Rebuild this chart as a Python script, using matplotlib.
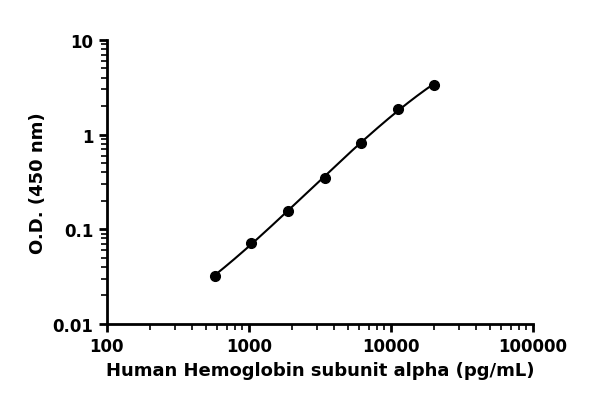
import numpy as np
import matplotlib
matplotlib.use("Agg")
import matplotlib.pyplot as plt
from matplotlib.ticker import FixedLocator, FixedFormatter, LogLocator, NullFormatter

conc = [575, 1030, 1880, 3430, 6150, 11200, 20000]
od = [0.032, 0.072, 0.156, 0.35, 0.82, 1.87, 3.35]
xticks = [100, 1000, 10000, 100000]
xlabels = ["100", "1000", "10000", "100000"]
yticks = [0.01, 0.1, 1, 10]
ylabels = ["0.01", "0.1", "1", "10"]

fig = plt.figure(figsize=(6, 4.14), dpi=100)
ax = fig.add_axes([0.178, 0.215, 0.71, 0.686])
lx, ly = np.log10(conc), np.log10(od)
c = np.polyfit(lx, ly, 3)
xx = np.linspace(lx[0], lx[-1], 200)
ax.plot(10**xx, 10**np.polyval(c, xx), color="black", lw=1.5)
ax.plot(conc, od, "o", color="black", ms=7)
ax.set_xscale("log"); ax.set_yscale("log")
ax.set_xlim(100, 100000); ax.set_ylim(0.01, 10)
ax.xaxis.set_major_locator(FixedLocator(xticks))
ax.xaxis.set_major_formatter(FixedFormatter(xlabels))
ax.yaxis.set_major_locator(FixedLocator(yticks))
ax.yaxis.set_major_formatter(FixedFormatter(ylabels))
for a in (ax.xaxis, ax.yaxis):
    a.set_minor_locator(LogLocator(base=10, subs=np.arange(2, 10)))
    a.set_minor_formatter(NullFormatter())
for s in ("top", "right"):
    ax.spines[s].set_visible(False)
for s in ("left", "bottom"):
    ax.spines[s].set_linewidth(2)
ax.tick_params(which="major", length=6, width=2, labelsize=12)
ax.tick_params(which="minor", length=4, width=1.2)
for t in ax.get_xticklabels() + ax.get_yticklabels():
    t.set_fontweight("bold")
ax.set_xlabel("Human Hemoglobin subunit alpha (pg/mL)", fontsize=13, fontweight="bold")
ax.set_ylabel("O.D. (450 nm)", fontsize=13, fontweight="bold")
fig.savefig("out.png", dpi=100)
